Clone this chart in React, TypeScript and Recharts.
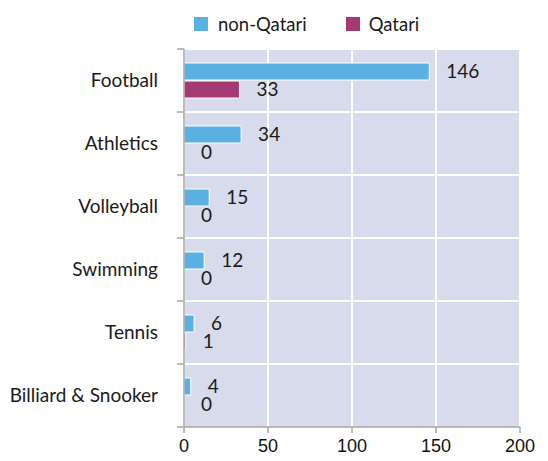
import { BarChart, Bar, XAxis, YAxis, CartesianGrid, LabelList, Cell } from "recharts";

const sports = ["Football", "Athletics", "Volleyball", "Swimming", "Tennis", "Billiard & Snooker"];
const nonQatari = [146, 34, 15, 12, 6, 4];
const qatari = [33, 0, 0, 0, 1, 0];
const xTicks = [0, 50, 100, 150, 200];

const BLUE = "#5AB0E3";
const PLUM = "#A63A73";
const PANEL = "#D7DBEB";
const AXIS = "#A6A6A6";
const FONT = "Lato, 'Open Sans', sans-serif";

const W = 548;
const H = 461;
const MARGIN = { top: 49, right: 28, bottom: 0, left: 0 };
const X_AXIS_H = 34;
const BAND = (H - MARGIN.top - MARGIN.bottom - X_AXIS_H) / sports.length;

const data = sports.map((s, i) => ({ sport: s, nonQatari: nonQatari[i], qatari: qatari[i] }));

const SportTick = (props: any) => {
  const { x, y, payload, index } = props;
  const top = y - BAND / 2;
  return (
    <g>
      <line x1={x - 7} x2={x} y1={top} y2={top} stroke={AXIS} strokeWidth={1.5} />
      {index === sports.length - 1 && (
        <line x1={x - 7} x2={x} y1={top + BAND} y2={top + BAND} stroke={AXIS} strokeWidth={1.5} />
      )}
      <text x={x - 26} y={y} dy="0.35em" textAnchor="end" fill="#1a1a1a" fontSize={19} fontFamily={FONT}>
        {payload.value}
      </text>
    </g>
  );
};

const NumTick = (props: any) => {
  const { x, y, payload } = props;
  return (
    <text x={x} y={y} dy={13} textAnchor="middle" fill="#111" fontSize={18} fontFamily="'Liberation Sans', Arial, sans-serif">
      {payload.value}
    </text>
  );
};

// value label drawn even when the bar has zero length
const ValueLabel = (props: any) => {
  const { x, y, width, height, value } = props;
  return (
    <text x={x + Math.max(width, 0) + 17} y={y + height / 2} dy="0.35em" fill="#1a1a1a" fontSize={19} fontFamily={FONT}>
      {value}
    </text>
  );
};

const LegendBox = () => (
  <div
    style={{
      position: "absolute",
      left: 193,
      top: 13,
      display: "flex",
      alignItems: "center",
      fontFamily: FONT,
      fontSize: 18.5,
      color: "#1a1a1a",
    }}
  >
    <span style={{ width: 14, height: 14, background: BLUE, border: "1px solid #fff", display: "inline-block" }} />
    <span style={{ marginLeft: 9 }}>non-Qatari</span>
    <span style={{ width: 14, height: 14, background: PLUM, border: "1px solid #fff", display: "inline-block", marginLeft: 38 }} />
    <span style={{ marginLeft: 8 }}>Qatari</span>
  </div>
);

export default function App() {
  return (
    <div style={{ position: "absolute", left: 0, top: 0, width: W, height: H, background: "#fff" }}>
      <BarChart width={W} height={H} data={data} layout="vertical" margin={MARGIN} barSize={17} barGap={1} barCategoryGap={0}>
        <CartesianGrid
          fill={PANEL}
          stroke="#fff"
          strokeWidth={2}
          horizontalCoordinatesGenerator={({ offset }: any) =>
            sports.map((_, i) => offset.top + (i * offset.height) / sports.length)
          }
        />
        <XAxis
          type="number"
          domain={[0, 200]}
          ticks={xTicks}
          height={X_AXIS_H}
          axisLine={{ stroke: AXIS, strokeWidth: 1.5 }}
          tickLine={{ stroke: AXIS, strokeWidth: 1.5 }}
          tickSize={6}
          tickMargin={6}
          tick={<NumTick />}
        />
        <YAxis
          type="category"
          dataKey="sport"
          width={184}
          axisLine={{ stroke: AXIS, strokeWidth: 1.5 }}
          tickLine={false}
          tickSize={0}
          tickMargin={0}
          interval={0}
          tick={<SportTick />}
        />
        <Bar dataKey="nonQatari" name="non-Qatari" fill={BLUE} stroke="#fff" strokeWidth={1} isAnimationActive={false}>
          <LabelList dataKey="nonQatari" content={<ValueLabel />} />
        </Bar>
        <Bar dataKey="qatari" name="Qatari" fill={PLUM} minPointSize={0.01} isAnimationActive={false}>
          {qatari.map((v, i) => (
            <Cell key={i} stroke={v > 0 ? "#fff" : "none"} strokeWidth={1} />
          ))}
          <LabelList dataKey="qatari" content={<ValueLabel />} />
        </Bar>
      </BarChart>
      <LegendBox />
    </div>
  );
}
